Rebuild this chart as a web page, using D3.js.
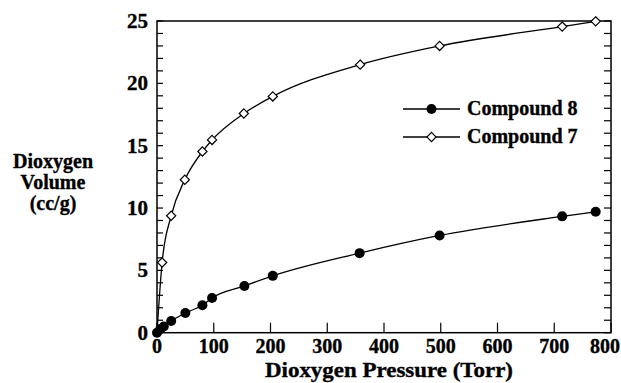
<!DOCTYPE html>
<html>
<head>
<meta charset="utf-8">
<script src="https://cdn.jsdelivr.net/npm/d3@7"></script>
<style>
  body { margin: 0; background: #fff; }
  svg text { stroke: #000; stroke-width: 0.35px; }
</style>
</head>
<body>
<svg width="621" height="383"></svg>
<script>
// data
const pressure8 = [0, 6, 12, 25, 50, 80, 97, 154, 204, 357, 498, 714, 773];
const volume8   = [0, 0.3, 0.5, 0.94, 1.58, 2.2, 2.79, 3.75, 4.56, 6.38, 7.8, 9.33, 9.7];
const pressure7 = [0, 9, 25, 49, 80, 97, 153, 204, 358, 498, 714, 773];
const volume7   = [0, 5.63, 9.38, 12.27, 14.53, 15.46, 17.58, 18.95, 21.5, 23.0, 24.55, 24.97];
const xTicks = [0, 100, 200, 300, 400, 500, 600, 700, 800];
const yTicks = [0, 5, 10, 15, 20, 25];
const legendLabels = ['Compound 8', 'Compound 7'];

const svg = d3.select('svg');
const plotLeft = 157, plotRight = 611, plotTop = 21, plotBottom = 332.7;
const serif = "'Liberation Serif', 'Times New Roman', serif";

const x = d3.scaleLinear().domain([0, 800]).range([plotLeft, plotRight]);
const y = d3.scaleLinear().domain([0, 25]).range([plotBottom, plotTop]);

// frame
svg.append('rect')
    .attr('x', plotLeft).attr('y', plotTop)
    .attr('width', plotRight - plotLeft).attr('height', plotBottom - plotTop)
    .attr('fill', 'none').attr('stroke', '#000').attr('stroke-width', 1.5);

// y ticks every unit, on left and right (inward)
const yMinor = d3.range(0, 26);
svg.append('g').selectAll('line').data(yMinor).join('line')
    .attr('x1', plotLeft).attr('x2', plotLeft + 6)
    .attr('y1', d => y(d)).attr('y2', d => y(d))
    .attr('stroke', '#000').attr('stroke-width', 1.2);
svg.append('g').selectAll('line').data(yMinor).join('line')
    .attr('x1', plotRight).attr('x2', plotRight - 7)
    .attr('y1', d => y(d)).attr('y2', d => y(d))
    .attr('stroke', '#000').attr('stroke-width', 1.2);

// x ticks (inward)
svg.append('g').selectAll('line').data(xTicks).join('line')
    .attr('x1', d => x(d)).attr('x2', d => x(d))
    .attr('y1', plotBottom).attr('y2', plotBottom - 10)
    .attr('stroke', '#000').attr('stroke-width', 1.2);

// tick labels (last one kept inside the page edge)
svg.append('g').selectAll('text').data(xTicks).join('text')
    .attr('x', (d, i) => i === xTicks.length - 1 ? 620 : x(d)).attr('y', 353)
    .attr('text-anchor', (d, i) => i === xTicks.length - 1 ? 'end' : 'middle')
    .attr('font-family', serif).attr('font-weight', 'bold')
    .style('font-size', '20px')
    .text(d => d);
svg.append('g').selectAll('text').data(yTicks).join('text')
    .attr('x', plotLeft - 9).attr('y', d => y(d) + 7)
    .attr('text-anchor', 'end')
    .attr('font-family', serif).attr('font-weight', 'bold')
    .style('font-size', '21px')
    .text(d => d);

// axis titles
svg.append('text')
    .attr('x', 389).attr('y', 377)
    .attr('text-anchor', 'middle')
    .attr('font-family', serif).attr('font-weight', 'bold')
    .attr('textLength', 248).attr('lengthAdjust', 'spacingAndGlyphs')
    .style('font-size', '21px')
    .text('Dioxygen Pressure (Torr)');
const yTitle = ['Dioxygen', 'Volume', '(cc/g)'];
svg.append('g').selectAll('text').data(yTitle).join('text')
    .attr('x', 53).attr('y', (d, i) => 168 + i * 21)
    .attr('text-anchor', 'middle')
    .attr('font-family', serif).attr('font-weight', 'bold')
    .style('font-size', '20px')
    .text(d => d);

// series
const data8 = pressure8.map((p, i) => [p, volume8[i]]);
const data7 = pressure7.map((p, i) => [p, volume7[i]]);

const line = d3.line()
    .x(d => x(d[0])).y(d => y(d[1]))
    .curve(d3.curveMonotoneX);

svg.append('path').datum(data7)
    .attr('d', line)
    .attr('fill', 'none').attr('stroke', '#000').attr('stroke-width', 1.3);
svg.append('path').datum(data8)
    .attr('d', line)
    .attr('fill', 'none').attr('stroke', '#000').attr('stroke-width', 1.3);

const diamond = 'M0,-4.6L4.6,0L0,4.6L-4.6,0Z';
svg.append('g').selectAll('path').data(data7.slice(1)).join('path')
    .attr('d', diamond)
    .attr('transform', d => `translate(${x(d[0])},${y(d[1])})`)
    .attr('fill', '#fff').attr('stroke', '#000').attr('stroke-width', 1.2);

svg.append('g').selectAll('circle').data(data8).join('circle')
    .attr('cx', d => x(d[0])).attr('cy', d => y(d[1]))
    .attr('r', 5).attr('fill', '#000');

// legend
const legend = svg.append('g');
legendLabels.forEach((label, i) => {
    const ly = 109 + i * 28;
    legend.append('line')
        .attr('x1', 403).attr('x2', 460)
        .attr('y1', ly).attr('y2', ly)
        .attr('stroke', '#000').attr('stroke-width', 1.3);
    if (i === 0) {
        legend.append('circle').attr('cx', 431.5).attr('cy', ly).attr('r', 5).attr('fill', '#000');
    } else {
        legend.append('path').attr('d', diamond)
            .attr('transform', `translate(431.5,${ly})`)
            .attr('fill', '#fff').attr('stroke', '#000').attr('stroke-width', 1.2);
    }
    legend.append('text')
        .attr('x', 467).attr('y', ly + 6)
        .attr('font-family', serif).attr('font-weight', 'bold')
        .style('font-size', '20px')
        .text(label);
});
</script>
</body>
</html>
